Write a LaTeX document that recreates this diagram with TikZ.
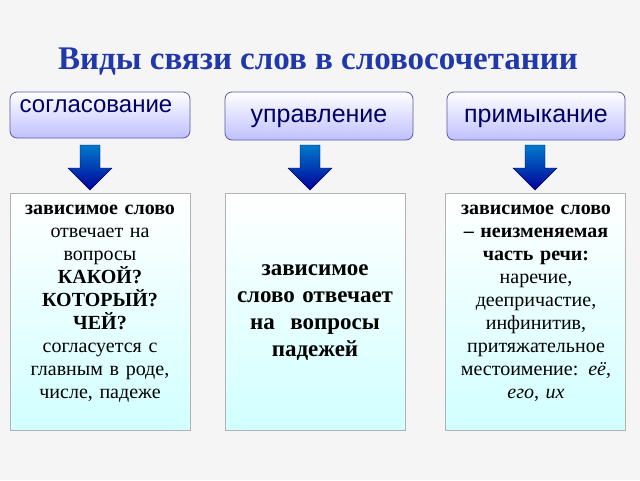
\documentclass[tikz,border=0pt]{standalone}
\usepackage{fontspec}
\setmainfont{Liberation Serif}
\setsansfont{Liberation Sans}
\begin{document}
\begin{tikzpicture}[x=1pt,y=-1pt,
  topbox/.style={draw=gray!70!blue,rounded corners=7pt,top color=white,bottom color=blue!25,line width=0.8pt},
  botbox/.style={draw=gray!60,line width=1pt,top color=white,bottom color=cyan!18,draw},
  arr/.style={draw=blue!40!black,top color=blue!40!cyan!80!black,bottom color=blue!60!black},
  txt/.style={font=\fontsize{20}{23}\selectfont,align=center,text width=184pt,inner sep=0pt}]
\useasboundingbox[fill=gray!8] (0,0) rectangle (640,480);
\node (title) at (318,62) {\fontsize{33}{36}\selectfont\bfseries\color[RGB]{32,56,170}Виды связи слов в словосочетании};
\path[topbox] (10,92) rectangle (190,138);
\path[topbox] (225,92) rectangle (413,140);
\path[topbox] (447,92) rectangle (625,140);
\node (t1) at (96,106) {\sffamily\fontsize{24}{26}\selectfont\color{blue!40!black}согласование};
\node (t2) at (319,118) {\sffamily\fontsize{25}{26}\selectfont\color{blue!40!black}управление};
\node (t3) at (536,118) {\sffamily\fontsize{25}{26}\selectfont\color{blue!40!black}примыкание};
\foreach \cx in {90,310,535}{
  \path[arr] (\cx-10,145) -- (\cx+10,145) -- (\cx+10,168) -- (\cx+22,168) -- (\cx,190) -- (\cx-22,168) -- (\cx-10,168) -- cycle;}
\path[botbox] (10,193) rectangle (190,430);
\path[botbox] (225,193) rectangle (405,430);
\path[botbox] (445,193) rectangle (625,430);
\node[txt,anchor=north] (b1) at (100,205) {\textbf{зависимое слово}\\ отвечает на\\ вопросы\\ \textbf{КАКОЙ?}\\ \textbf{КОТОРЫЙ?}\\ \textbf{ЧЕЙ?}\\ согласуется с\\ главным в роде,\\ числе, падеже};
\node[txt,anchor=center,font=\fontsize{23}{27}\selectfont\bfseries] (b2) at (315,313) {зависимое\\ слово отвечает\\ на~ вопросы\\ падежей};
\node[txt,anchor=north] (b3) at (536,205) {\textbf{зависимое слово}\\ \textbf{– неизменяемая}\\ \textbf{часть речи:}\\ наречие,\\ деепричастие,\\ инфинитив,\\ притяжательное\\ местоимение: \textit{её},\\ \textit{его}, \textit{их}};
\end{tikzpicture}
\end{document}
